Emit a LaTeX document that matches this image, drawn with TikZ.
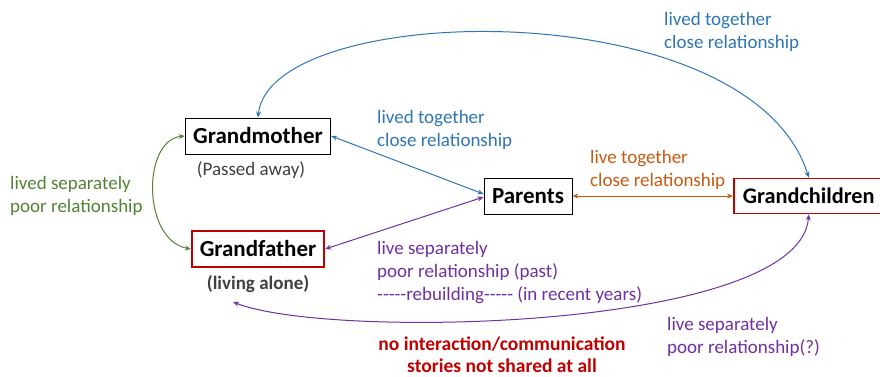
\documentclass[tikz,border=0pt]{standalone}
\usepackage{fontspec}
\setmainfont{Carlito}
\usetikzlibrary{arrows.meta}

\definecolor{tieblue}{HTML}{2E75B6}
\definecolor{tiegreen}{HTML}{548235}
\definecolor{tieorange}{HTML}{C55A11}
\definecolor{tiepurple}{HTML}{7030A0}
\definecolor{tiered}{HTML}{C00000}
\definecolor{subgray}{HTML}{404040}

% plain hyphens, kept apart so that they do not turn into dashes
\newcommand\hyphenrun{\mbox{-}\mbox{-}\mbox{-}\mbox{-}\mbox{-}}

\tikzset{
  person/.style={draw=black, line width=0.9pt, fill=white, inner xsep=8pt,
    minimum height=36pt, font=\fontsize{23}{27}\selectfont\bfseries},
  keyperson/.style={person, draw=tiered, line width=1.8pt},
  note/.style={align=left, inner sep=0pt, font=\fontsize{19}{23}\selectfont},
  sub/.style={inner sep=0pt, text=subgray, font=\fontsize{19}{22}\selectfont},
  tie/.style={{Stealth[length=6pt,width=5pt]}-{Stealth[length=6pt,width=5pt]},
    line width=1pt},
}

\begin{document}
\begin{tikzpicture}[x=1pt,y=-1pt]
  \useasboundingbox (0,0) rectangle (880,376);
  % family members
  \node[person] (gm) at (258,136) {Grandmother};
  \node[keyperson] (gf) at (258,249) {Grandfather};
  \node[person] (par) at (528,196) {Parents};
  \node[keyperson, anchor=west, inner xsep=9pt, minimum height=35pt,
    font=\fontsize{22.3}{27}\selectfont\bfseries] (gc) at (733,196) {Grandchildren};
  \node[sub] (away) at (251,170) {(Passed away)};
  \node[sub, font=\fontsize{19}{22}\selectfont\bfseries] (alone) at (258,284) {(living alone)};
  \coordinate (alonept) at (233,302);

  % relationship notes
  \node[note, text=tiegreen, anchor=west] (nsep) at (10,196)
    {lived separately\\poor relationship};
  \node[note, text=tieblue, anchor=west] (ntop) at (664,32)
    {lived together\\close relationship};
  \node[note, text=tieblue, anchor=west] (nmid) at (377,130)
    {lived together\\close relationship};
  \node[note, text=tieorange, anchor=west] (nnow) at (590,170)
    {live together\\close relationship};
  \node[note, text=tiepurple, anchor=west] (npast) at (377,273)
    {live separately\\poor relationship (past)\\\hyphenrun rebuilding\hyphenrun{} (in recent years)};
  \node[note, text=tiepurple, anchor=west] (nq) at (667,337)
    {live separately\\poor relationship(?)};
  \node[note, align=center, text=tiered, font=\fontsize{19.5}{22}\selectfont\bfseries]
    (nnone) at (502,354.5) {no interaction/communication\\stories not shared at all};

  % connectors
  \draw[tie, tiegreen] (gm.west) .. controls (142,140) and (142,240) .. (gf.west);
  \draw[tie, tieblue] (gm.north) .. controls (270,0) and (750,-10) .. (gc.north);
  \draw[tie, tieblue] (gm.east) -- ([yshift=2pt]par.west);
  \draw[tie, tieorange, line width=0.8pt] (par.east) -- (gc.west);
  \draw[tie, tiepurple] ([yshift=-1pt]par.west) -- (gf.east);
  \draw[tie, tiepurple] (gc.south) .. controls (800,330) and (330,340) .. (alonept);
\end{tikzpicture}
\end{document}
